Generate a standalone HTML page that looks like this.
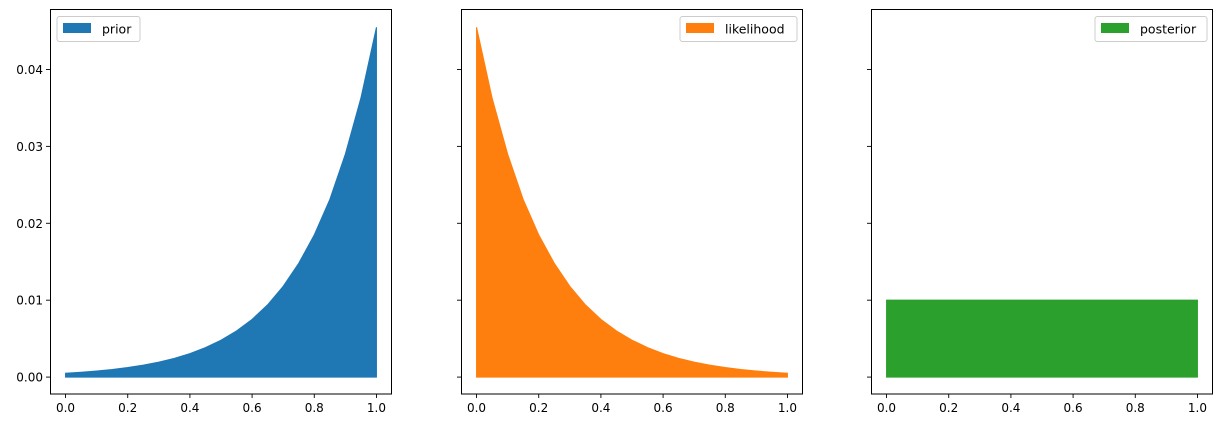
<!DOCTYPE html>
<html><head><meta charset="utf-8"><style>
html,body{margin:0;padding:0;background:#fff;}
svg{display:block;font-family:"DejaVu Sans","Liberation Sans",sans-serif;}
</style></head><body>
<svg id="chart" width="1222" height="428" viewBox="0 0 1222 428"></svg>
<script>
const xs = [0,0.05,0.1,0.15,0.2,0.25,0.3,0.35,0.4,0.45,0.5,0.55,0.6,0.65,0.7,0.75,0.8,0.85,0.9,0.95,1.0];
const priorVals = [0.0005,0.00063,0.00079,0.00099,0.00124,0.00156,0.00195,0.00244,0.00306,0.00383,0.0048,0.006,0.0075,0.0094,0.0118,0.0148,0.0185,0.0231,0.029,0.0363,0.0455];
const likelihoodVals = [0.0455,0.0363,0.029,0.0231,0.0185,0.0148,0.0118,0.0094,0.0075,0.006,0.0048,0.00383,0.00306,0.00244,0.00195,0.00156,0.00124,0.00099,0.00079,0.00063,0.0005];
const posteriorVals = [0.01,0.01,0.01,0.01,0.01,0.01,0.01,0.01,0.01,0.01,0.01,0.01,0.01,0.01,0.01,0.01,0.01,0.01,0.01,0.01,0.01];
const xTicks = [0,0.2,0.4,0.6,0.8,1.0];
const xTickLabels = ["0.0","0.2","0.4","0.6","0.8","1.0"];
const yTicks = [0,0.01,0.02,0.03,0.04];
const yTickLabels = ["0.00","0.01","0.02","0.03","0.04"];
const seriesNames = ["prior","likelihood","posterior"];
const seriesColors = ["#1f77b4","#ff7f0e","#2ca02c"];

const NS = "http://www.w3.org/2000/svg";
const svgEl = document.getElementById("chart");
function mk(tag, attrs, parent){
  const e = document.createElementNS(NS, tag);
  for (const k in attrs) e.setAttribute(k, attrs[k]);
  (parent||svgEl).appendChild(e);
  return e;
}
const plotTop = 9.5, plotBottom = 394;
const yMin = -0.0022, yMax = 0.0478;
function yScale(v){ return plotBottom - (v - yMin) / (yMax - yMin) * (plotBottom - plotTop); }
const panels = [
  {left:50, right:392, data:priorVals, legendRight:false},
  {left:461, right:803, data:likelihoodVals, legendRight:true},
  {left:871, right:1213, data:posteriorVals, legendRight:true}
];
panels.forEach((p, i) => {
  const g = mk("g", {});
  
  
  const w = p.right - p.left;
  const xScale = v => p.left + (v + 0.05) / 1.1 * w;
  let d = "M" + xScale(xs[0]) + "," + yScale(0);
  xs.forEach((x, j) => { d += " L" + xScale(x).toFixed(2) + "," + yScale(p.data[j]).toFixed(2); });
  d += " L" + xScale(xs[xs.length-1]) + "," + yScale(0) + " Z";
  const area = mk("path", {d:d, fill:seriesColors[i], stroke:seriesColors[i], "stroke-width":1}, g);
  
  
  const frame = mk("rect", {x:p.left+0.5, y:plotTop, width:w-1, height:plotBottom-plotTop, fill:"none", stroke:"#000", "stroke-width":1}, g);
  
  
  xTicks.forEach((t, j) => {
    const x = xScale(t);
    mk("line", {x1:x, x2:x, y1:plotBottom, y2:plotBottom+4, stroke:"#000", "stroke-width":0.9}, g);
    const tx = mk("text", {x:x, y:plotBottom+18, "font-size":12, "text-anchor":"middle", fill:"#000"}, g);
    tx.textContent = xTickLabels[j];
    
    
  });
  yTicks.forEach((t, j) => {
    const y = yScale(t);
    mk("line", {x1:p.left-4, x2:p.left, y1:y, y2:y, stroke:"#000", "stroke-width":0.9}, g);
    if (i === 0) {
      const ty = mk("text", {x:p.left-7, y:y+4.5, "font-size":12, "text-anchor":"end", fill:"#000"}, g);
      ty.textContent = yTickLabels[j];
      
      
    }
  });
  const lw = [83, 117, 112][i];
  const lx = p.legendRight ? p.right - 6 - lw : p.left + 7;
  const lg = mk("g", {}, g);
  
  
  mk("rect", {x:lx, y:16.5, width:lw, height:25, rx:2.5, fill:"#fff", stroke:"#ccc", "stroke-width":1}, lg);
  mk("rect", {x:lx+6, y:23, width:28, height:10, fill:seriesColors[i]}, lg);
  const lt = mk("text", {x:lx+45, y:33.5, "font-size":12.5, fill:"#000"}, lg);
  lt.textContent = seriesNames[i];
});
</script>
</body></html>
